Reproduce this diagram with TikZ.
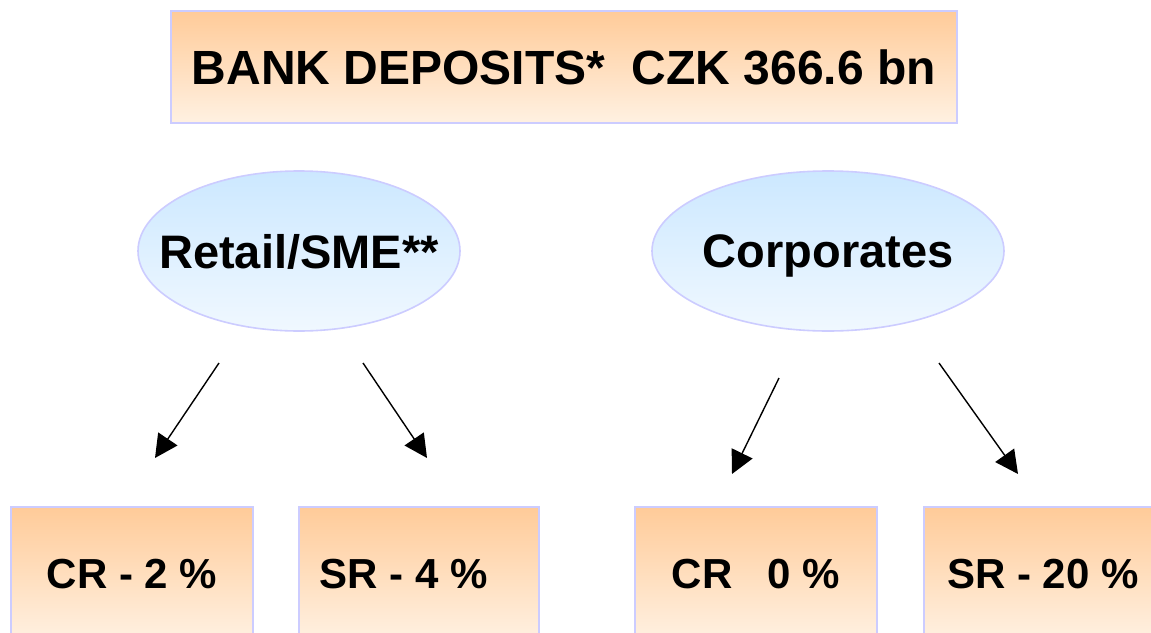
\documentclass[tikz,border=0pt]{standalone}
\usepackage{fontspec}
\setmainfont{Liberation Sans}
\usepackage{tikz}
\usetikzlibrary{shapes.geometric,arrows.meta}

\definecolor{peach}{RGB}{255,203,153}
\definecolor{cream}{RGB}{255,241,226}
\definecolor{skyblue}{RGB}{204,232,255}
\definecolor{paleblue}{RGB}{240,248,255}
\definecolor{lavender}{RGB}{204,204,255}

\begin{document}
\begin{tikzpicture}[x=1pt,y=-1pt,
  box/.style={rectangle,draw=lavender,line width=1.6pt,top color=peach,bottom color=cream,
    inner sep=0pt,text depth=0pt,font=\bfseries\fontsize{42}{50}\selectfont},
  oval/.style={ellipse,draw=lavender,line width=1.6pt,top color=skyblue,bottom color=paleblue,
    inner xsep=-26pt,inner ysep=0pt,text depth=0pt,font=\bfseries\fontsize{47}{56}\selectfont},
  arr/.style={line width=1.4pt,-{Triangle[length=23pt,width=23pt]}}]
\clip (0,0) rectangle (1151,632);
\fill[white] (0,0) rectangle (1151,632);
% top box
\node[box,minimum width=786pt,minimum height=112pt,font=\bfseries\fontsize{48}{58}\selectfont]
  (deposits) at (564,67) {BANK DEPOSITS*\ \ CZK 366.6 bn};
% the two groups
\node[oval,minimum width=322pt,minimum height=160pt] (retail) at (299,251) {Retail/SME**};
\node[oval,minimum width=352pt,minimum height=160pt] (corporates) at (828,251) {Corporates};
% the four ratios
\node[box,minimum width=242pt,minimum height=134pt] (retailcr) at (132,574) {CR - 2 \%};
\node[box,minimum width=240pt,minimum height=134pt] (retailsr) at (419,574) {SR - 4 \%\rule{30pt}{0pt}};
\node[box,minimum width=242pt,minimum height=134pt] (corpcr) at (756,574) {CR\ \ \ 0 \%};
\node[box,minimum width=242pt,minimum height=134pt] (corpsr) at (1045,574) {SR - 20 \%\rule{4pt}{0pt}};
% arrows
\coordinate (rs1) at (219,363); \coordinate (re1) at (155,458);
\coordinate (rs2) at (363,363); \coordinate (re2) at (427,458);
\coordinate (cs1) at (779,378); \coordinate (ce1) at (732,474);
\coordinate (cs2) at (939,363); \coordinate (ce2) at (1018,474);
\draw[arr] (rs1) -- (re1);
\draw[arr] (rs2) -- (re2);
\draw[arr] (cs1) -- (ce1);
\draw[arr] (cs2) -- (ce2);
\end{tikzpicture}
\end{document}
